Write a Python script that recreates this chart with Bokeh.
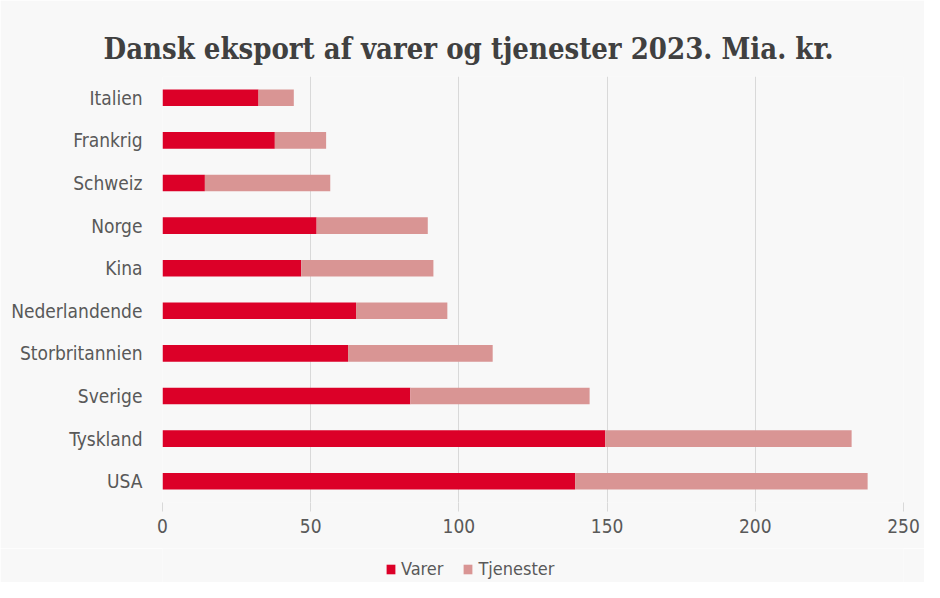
from bokeh.plotting import figure
from bokeh.models import ColumnDataSource, FactorRange, Range1d, FixedTicker, Legend
from bokeh.layouts import column
from bokeh.embed import file_html
from bokeh.resources import INLINE

# Data (bottom to top)
lande = ["USA", "Tyskland", "Sverige", "Storbritannien", "Nederlandende",
         "Kina", "Norge", "Schweiz", "Frankrig", "Italien"]
varer = [139.2, 149.4, 83.6, 62.6, 65.3, 46.8, 52.0, 14.3, 37.9, 32.4]
tjenester = [98.7, 83.1, 60.5, 48.8, 30.8, 44.6, 37.5, 42.3, 17.3, 11.9]
serier = ["Varer", "Tjenester"]
farver = ["#dc0028", "#d99594"]
x_ticks = [0, 50, 100, 150, 200, 250]

source = ColumnDataSource(dict(land=lande, Varer=varer, Tjenester=tjenester))

BG = "#f8f8f8"
TXT = "#595959"
GRID = "#d9d9d9"

p = figure(width=924, height=548, frame_width=741, frame_height=426,
           output_backend="svg", toolbar_location=None,
           y_range=FactorRange(factors=lande, range_padding=0),
           x_range=Range1d(0, 250),
           min_border_left=162, min_border_right=21,
           min_border_top=76, min_border_bottom=46)

p.title.text = "Dansk eksport af varer og tjenester 2023. Mia. kr."
p.title.text_font = "DejaVu Serif Condensed"
p.title.text_font_size = "29px"
p.title.text_font_style = "bold"
p.title.text_color = "#404040"
p.title.align = "left"
p.title.offset = -59
p.title.standoff = 22

p.background_fill_color = BG
p.border_fill_color = BG
p.outline_line_color = None

p.hbar_stack(serier, y="land", height=0.39, color=farver,
             line_color=None, source=source)

p.xaxis.ticker = FixedTicker(ticks=x_ticks)
for ax in (p.xaxis[0], p.yaxis[0]):
    ax.axis_line_color = None
    ax.minor_tick_line_color = None
    ax.major_label_text_color = TXT
    ax.major_label_text_font = "DejaVu Sans Condensed"
    ax.major_label_text_font_size = "19px"
p.yaxis.major_tick_line_color = None
p.yaxis.major_tick_out = 0
p.yaxis.major_tick_in = 0
p.yaxis.major_label_standoff = 20
p.xaxis.major_tick_line_color = GRID
p.xaxis.major_tick_in = 0
p.xaxis.major_tick_out = 9
p.xaxis.major_label_standoff = 7

p.xgrid.grid_line_color = GRID
p.ygrid.grid_line_color = None

# Legend strip below the chart (its frame is aligned with the chart's frame;
# the strip's renderers have zero height so only the legend is visible)
lg = figure(width=924, height=34, output_backend="svg", toolbar_location=None,
            x_range=Range1d(300, 400), y_range=FactorRange(factors=lande),
            min_border_left=162, min_border_right=21, min_border_top=0, min_border_bottom=0)
lg.axis.visible = False
lg.grid.visible = False
lg.outline_line_color = None
lg.background_fill_color = BG
lg.border_fill_color = BG
leg_renderers = lg.hbar_stack(serier, y="land", height=0, color=farver,
                              line_color=None, source=source)

legend = Legend(items=[(s, [r]) for s, r in zip(serier, leg_renderers)],
                location=(223, 3), orientation="horizontal",
                background_fill_alpha=0, border_line_color=None,
                padding=2, margin=0, spacing=19,
                glyph_width=11, glyph_height=12, label_standoff=5,
                label_text_font="DejaVu Sans Condensed", label_text_font_size="18px",
                label_text_color=TXT)
lg.add_layout(legend, "center")

layout = column(p, lg, spacing=0)
open("out.html", "w").write(file_html(layout, INLINE))
